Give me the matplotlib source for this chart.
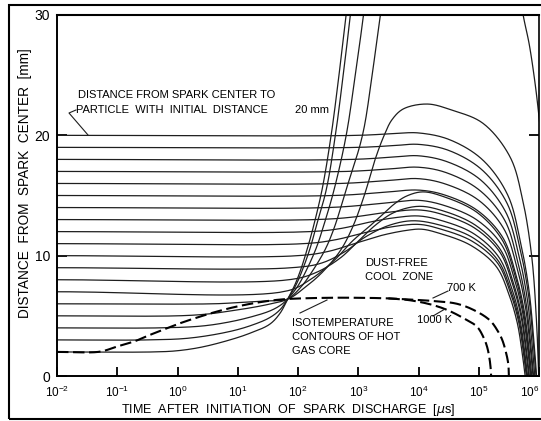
import numpy as np
import matplotlib
matplotlib.use("Agg")
import matplotlib.pyplot as plt
from matplotlib.lines import Line2D
from matplotlib.patches import Rectangle
from matplotlib.ticker import FixedLocator, NullLocator

plt.rcParams['font.family'] = ['Liberation Sans', 'DejaVu Sans']
plt.rcParams['mathtext.fontset'] = 'custom'
plt.rcParams['mathtext.rm'] = 'Liberation Sans'

# ---- particle trajectories: (log10 of time in µs, distance from spark centre in mm)
traj_02 = [(-2, 2.0), (-0.4, 2.0), (0.0, 2.1), (0.4, 2.4), (0.87, 3.0), (1.2, 3.55), (1.53, 4.3),
           (1.7, 5.2), (1.83, 6.4), (1.95, 7.6), (2.05, 8.9), (2.15, 10.5), (2.25, 12.3),
           (2.4, 15.5), (2.55, 20.0), (2.68, 25.0), (2.81, 30.5), (2.9, 34.0)]
traj_03 = [(-2, 3.0), (-0.5, 3.0), (0.2, 3.15), (0.87, 3.7), (1.25, 4.25), (1.53, 4.85),
           (1.7, 5.5), (1.83, 6.4), (1.97, 7.6), (2.08, 8.9), (2.2, 10.6), (2.3, 12.4),
           (2.47, 15.5), (2.62, 20.0), (2.75, 25.0), (2.88, 30.5), (2.95, 34.0)]
traj_04 = [(-2, 4.0), (-0.3, 4.0), (0.4, 4.15), (0.87, 4.5), (1.25, 4.95), (1.53, 5.4),
           (1.7, 5.85), (1.83, 6.4), (2.0, 7.5), (2.15, 8.9), (2.3, 10.6), (2.42, 12.4),
           (2.6, 15.5), (2.8, 20.0), (2.95, 25.0), (3.1, 30.5), (3.18, 34.0)]
traj_05 = [(-2, 5.0), (0.0, 5.0), (0.5, 5.15), (0.87, 5.4), (1.25, 5.7), (1.53, 5.98),
           (1.83, 6.4), (2.05, 7.4), (2.25, 8.8), (2.45, 10.5), (2.6, 12.3), (2.8, 15.5),
           (3.07, 20.0), (3.23, 25.0), (3.38, 30.5), (3.5, 34.0)]
traj_05_return = [(5.6, 36.0), (5.72, 30.5), (5.84, 27.5), (5.93, 24.5), (5.99, 22.0),
                  (6.04, 19.5), (6.1, 16.0)]
traj_06 = [(-2, 6.0), (0.6, 6.0), (1.0, 6.1), (1.4, 6.22), (1.83, 6.4), (2.1, 7.3), (2.4, 8.6),
           (2.7, 10.4), (2.9, 12.3), (3.1, 15.0), (3.28, 18.0), (3.43, 20.0), (3.56, 21.3),
           (3.75, 22.2), (4.15, 22.6), (4.55, 22.1), (5.07, 21.0), (5.52, 18.2), (5.73, 14.6),
           (5.88, 9.9), (5.96, 4.4), (5.995, 0.0)]
traj_07 = [(-2, 7.0), (1.8, 7.05), (2.2, 8.0), (2.6, 9.6), (2.9, 11.2), (3.2, 12.5), (3.4, 13.4),
           (3.6, 14.3), (3.8, 14.95), (4.07, 15.3), (4.42, 14.9), (4.97, 13.6), (5.39, 11.3),
           (5.6, 8.4), (5.74, 5.4), (5.82, 2.4), (5.865, 0.0)]
traj_08 = [(-2, 8.0), (1.85, 8.0), (2.3, 8.6), (2.7, 9.8), (3.0, 11.2), (3.3, 12.6), (3.6, 13.6),
           (4.0, 14.1), (4.39, 13.75), (4.94, 12.55), (5.36, 10.5), (5.57, 7.8), (5.71, 5.1),
           (5.79, 2.25), (5.84, 0.0)]
traj_09 = [(-2, 9.0), (1.9, 9.0), (2.4, 9.4), (2.8, 10.4), (3.1, 11.5), (3.5, 12.5), (3.9, 12.9),
           (4.35, 12.55), (4.9, 11.5), (5.32, 9.6), (5.53, 7.15), (5.67, 4.65), (5.75, 2.05),
           (5.8, 0.0)]
traj_10 = [(-2, 10.0), (2.0, 10.0), (2.5, 10.35), (3.0, 11.1), (3.4, 11.7), (3.8, 12.1),
           (4.05, 12.2), (4.32, 11.9), (4.87, 10.85), (5.29, 9.1), (5.5, 6.8), (5.64, 4.4),
           (5.72, 1.95), (5.77, 0.0)]
traj_11 = [(-2, 11.0), (2.1, 11.0), (2.6, 11.3), (3.1, 11.9), (3.5, 12.35), (4.0, 12.6),
           (4.34, 12.25), (4.89, 11.2), (5.31, 9.4), (5.52, 7.0), (5.66, 4.55), (5.74, 2.0),
           (5.79, 0.0)]
traj_12 = [(-2, 12.0), (2.2, 12.0), (2.7, 12.25), (3.2, 12.8), (3.6, 13.15), (4.0, 13.3),
           (4.36, 12.95), (4.91, 11.85), (5.33, 9.9), (5.54, 7.4), (5.68, 4.8), (5.76, 2.1),
           (5.81, 0.0)]
traj_13 = [(-2, 13.0), (2.3, 13.0), (2.9, 13.2), (3.4, 13.55), (4.0, 13.8), (4.38, 13.45),
           (4.93, 12.3), (5.35, 10.3), (5.56, 7.65), (5.7, 5.0), (5.78, 2.2), (5.83, 0.0)]
traj_14 = [(-2, 14.0), (2.5, 14.0), (3.2, 14.25), (3.6, 14.45), (4.0, 14.6), (4.41, 14.2),
           (4.96, 13.0), (5.38, 10.9), (5.59, 8.1), (5.73, 5.25), (5.81, 2.35), (5.86, 0.0)]
traj_15 = [(-2, 15.0), (2.6, 15.0), (3.4, 15.25), (4.0, 15.45), (4.43, 15.05), (4.98, 13.75),
           (5.4, 11.5), (5.61, 8.55), (5.75, 5.55), (5.83, 2.45), (5.88, 0.0)]
traj_16 = [(-2, 16.0), (2.7, 16.0), (3.5, 16.25), (4.0, 16.4), (4.45, 15.95), (5.0, 14.6),
           (5.42, 12.2), (5.63, 9.1), (5.77, 5.9), (5.85, 2.6), (5.9, 0.0)]
traj_17 = [(-2, 17.0), (2.8, 17.0), (3.5, 17.2), (4.0, 17.35), (4.46, 16.9), (5.01, 15.45),
           (5.43, 12.95), (5.64, 9.65), (5.78, 6.25), (5.86, 2.8), (5.91, 0.0)]
traj_18 = [(-2, 18.0), (2.9, 18.0), (3.6, 18.2), (4.0, 18.3), (4.48, 17.8), (5.03, 16.3),
           (5.45, 13.6), (5.66, 10.15), (5.8, 6.6), (5.88, 2.95), (5.93, 0.0)]
traj_19 = [(-2, 19.0), (3.0, 19.0), (3.6, 19.15), (4.0, 19.25), (4.5, 18.75), (5.05, 17.15),
           (5.47, 14.35), (5.68, 10.7), (5.82, 6.95), (5.9, 3.1), (5.95, 0.0)]
traj_20 = [(-2, 20.0), (3.0, 20.0), (3.6, 20.15), (4.0, 20.2), (4.51, 19.65), (5.06, 17.98),
           (5.48, 15.05), (5.69, 11.2), (5.83, 7.27), (5.91, 3.23), (5.96, 0.0)]

# ---- isotemperature contours of the hot gas core
core_700K = [(-2, 2.0), (-1.29, 2.02), (-1.01, 2.44), (-0.73, 2.85), (-0.46, 3.41), (-0.18, 3.96),
             (0.04, 4.38), (0.37, 4.93), (0.65, 5.35), (0.93, 5.71), (1.2, 5.99), (1.54, 6.26),
             (1.83, 6.4), (2.5, 6.5), (3.0, 6.5), (3.5, 6.45), (3.85, 6.35), (4.2, 6.25),
             (4.64, 6.0), (4.95, 5.4), (5.19, 4.6), (5.32, 3.7), (5.39, 3.0), (5.45, 2.0),
             (5.49, 1.0), (5.5, 0.0)]
branch_1000K = [(3.5, 6.45), (3.85, 6.3), (4.2, 5.95), (4.47, 5.5), (4.75, 4.8), (4.97, 4.1),
                (5.08, 3.2), (5.14, 2.4), (5.18, 1.4), (5.2, 0.5), (5.205, 0.0)]

x_ticks = [1e-2, 1e-1, 1e0, 1e1, 1e2, 1e3, 1e4, 1e5, 1e6]
x_tick_labels = [r'$\mathregular{10^{-2}}$', r'$\mathregular{10^{-1}}$', r'$\mathregular{10^{0}}$',
                 r'$\mathregular{10^{1}}$', r'$\mathregular{10^{2}}$', r'$\mathregular{10^{3}}$',
                 r'$\mathregular{10^{4}}$', r'$\mathregular{10^{5}}$', r'$\mathregular{10^{6}}$']
y_ticks = [0, 10, 20, 30]

trajectories = [traj_02, traj_03, traj_04, traj_05, traj_05_return, traj_06, traj_07, traj_08,
                traj_09, traj_10, traj_11, traj_12, traj_13, traj_14, traj_15, traj_16,
                traj_17, traj_18, traj_19, traj_20]

# on-screen size of one decade and one millimetre, used so the spline bends evenly
SCALE = np.array([60.25, 12.03])


def smooth(points, n=20):
    """Centripetal Catmull-Rom curve through the given (log t, r) knots."""
    q = np.asarray(points, float) * SCALE
    q = np.vstack([2 * q[0] - q[1], q, 2 * q[-1] - q[-2]])
    out = [q[1]]
    for i in range(1, len(q) - 2):
        p0, p1, p2, p3 = q[i - 1], q[i], q[i + 1], q[i + 2]
        t0 = 0.0
        t1 = t0 + np.linalg.norm(p1 - p0) ** 0.5
        t2 = t1 + np.linalg.norm(p2 - p1) ** 0.5
        t3 = t2 + np.linalg.norm(p3 - p2) ** 0.5
        tt = np.linspace(t1, t2, n)[1:, None]
        a1 = (t1 - tt) / (t1 - t0) * p0 + (tt - t0) / (t1 - t0) * p1
        a2 = (t2 - tt) / (t2 - t1) * p1 + (tt - t1) / (t2 - t1) * p2
        a3 = (t3 - tt) / (t3 - t2) * p2 + (tt - t2) / (t3 - t2) * p3
        b1 = (t2 - tt) / (t2 - t0) * a1 + (tt - t0) / (t2 - t0) * a2
        b2 = (t3 - tt) / (t3 - t1) * a2 + (tt - t1) / (t3 - t1) * a3
        c = (t2 - tt) / (t2 - t1) * b1 + (tt - t1) / (t2 - t1) * b2
        out.extend(c)
    out = np.array(out) / SCALE
    return 10 ** out[:, 0], out[:, 1]


W, H = 541, 421
fig = plt.figure(figsize=(W / 100, H / 100), dpi=100, facecolor='white')


def fx(px):
    return px / W


def fy(py):
    return 1 - py / H


ax = fig.add_axes([fx(57), fy(376), fx(539) - fx(57), fy(15) - fy(376)])
ax.set_xscale('log')
ax.set_xlim(1e-2, 1e6)
ax.set_ylim(0, 30)

INK = '#1e1e1e'
for path in trajectories:
    x, y = smooth(path)
    ax.plot(x, y, color=INK, lw=0.9, solid_capstyle='round')

for path in (core_700K, branch_1000K):
    x, y = smooth(path)
    ax.plot(x, y, color='black', lw=1.5, dashes=(5.5, 2.2))

# axes frame and ticks
for side, lw in (('left', 1.4), ('bottom', 1.4), ('top', 1.5), ('right', 1.2)):
    ax.spines[side].set_linewidth(lw)
    ax.spines[side].set_color('black')
ax.xaxis.set_major_locator(FixedLocator(x_ticks))
ax.xaxis.set_minor_locator(NullLocator())
ax.set_xticklabels(x_tick_labels)
ax.set_yticks(y_ticks)
ax.set_yticklabels([str(v) for v in y_ticks])
ax.tick_params(axis='x', direction='in', length=6.5, width=1.3, pad=6, labelsize=8.5,
               colors='black')
ax.tick_params(axis='y', direction='in', length=7, width=1.3, pad=5, labelsize=10,
               colors='black', right=True)
# the last decade label sits at the right edge of the figure
ax.get_xticklabels()[-1].set_horizontalalignment('right')

fig.text(fx(288), fy(410), 'TIME  AFTER  INITIATION  OF  SPARK  DISCHARGE  [$\\mu$s]',
         ha='center', va='center', fontsize=9)
fig.text(fx(25), fy(183), 'DISTANCE  FROM  SPARK  CENTER  [mm]', rotation=90,
         ha='center', va='center', fontsize=9.8)

# annotations
ann = dict(fontsize=8.0, color='black', va='center', ha='left')
fig.text(fx(78), fy(95), 'DISTANCE FROM SPARK CENTER TO', **ann)
fig.text(fx(76), fy(110), 'PARTICLE  WITH  INITIAL  DISTANCE', **ann)
fig.text(fx(295), fy(110), '20 mm', **ann)
fig.add_artist(Line2D([fx(76), fx(69), fx(88)], [fy(110), fy(113), fy(135)],
                      color=INK, lw=0.8))

fig.text(fx(365), fy(263), 'DUST-FREE', **ann)
fig.text(fx(365), fy(277), 'COOL  ZONE', **ann)

fig.text(fx(447), fy(288), '700 K', **ann)
fig.add_artist(Line2D([fx(433), fx(448)], [fy(298), fy(291)], color=INK, lw=0.8))
fig.text(fx(417), fy(320), '1000 K', **ann)
fig.add_artist(Line2D([fx(433), fx(445)], [fy(316), fy(309)], color=INK, lw=0.8))

fig.text(fx(292), fy(323), 'ISOTEMPERATURE', **ann)
fig.text(fx(292), fy(337), 'CONTOURS OF HOT', **ann)
fig.text(fx(292), fy(351), 'GAS CORE', **ann)
fig.add_artist(Line2D([fx(300), fx(327)], [fy(313), fy(300)], color=INK, lw=0.8))

# outer border of the figure
fig.add_artist(Rectangle((fx(9), fy(419)), fx(560) - fx(9), fy(5) - fy(419),
                         fill=False, lw=1.5, edgecolor='black'))

fig.savefig('out.png', dpi=100, facecolor='white')
